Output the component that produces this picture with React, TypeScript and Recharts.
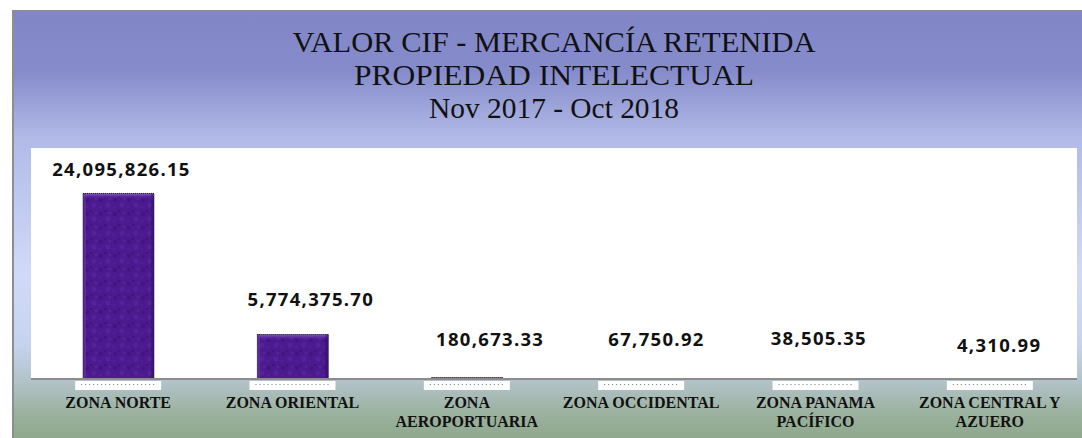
import React from "react";
import { BarChart, Bar, XAxis, YAxis, LabelList } from "recharts";

const categories = [
  "ZONA NORTE",
  "ZONA ORIENTAL",
  "ZONA AEROPORTUARIA",
  "ZONA OCCIDENTAL",
  "ZONA PANAMA PACÍFICO",
  "ZONA CENTRAL Y AZUERO",
];
const tickLines = [
  ["ZONA NORTE"],
  ["ZONA ORIENTAL"],
  ["ZONA", "AEROPORTUARIA"],
  ["ZONA OCCIDENTAL"],
  ["ZONA PANAMA", "PACÍFICO"],
  ["ZONA CENTRAL Y", "AZUERO"],
];
const values = [24095826.15, 5774375.7, 180673.33, 67750.92, 38505.35, 4310.99];
const titleLines = ["VALOR CIF - MERCANCÍA RETENIDA", "PROPIEDAD  INTELECTUAL", "Nov 2017 - Oct 2018"];

const data = categories.map((c, i) => ({ name: c, value: values[i] }));

// label placement tweaks (style only)
const labelDx = [3, 18, 23, 15, 3, 9];
const labelDy = [17.5, 28.5, 31.6, 32.5, 33.7, 27];

const fmt = (v: number) =>
  v.toLocaleString("en-US", { minimumFractionDigits: 2, maximumFractionDigits: 2 });

const BarShape = (props: any) => {
  const { x, y, width, height } = props;
  if (!height || height <= 0) return null;
  const bev = Math.min(6, height / 3);
  return (
    <g>
      <rect x={x} y={y} width={width} height={height} fill="url(#purpleTex)" />
      <rect x={x} y={y} width={width} height={bev} fill="url(#bevelTop)" />
      <rect x={x} y={y} width={3} height={height} fill="#6a3aae" opacity={0.5} />
      <rect x={x + width - 3} y={y} width={3} height={height} fill="#2a0a5a" opacity={0.4} />
      <rect
        x={x}
        y={y}
        width={width}
        height={height}
        fill="none"
        stroke="#1a1a1a"
        strokeWidth={1}
        strokeDasharray="1 1"
      />
    </g>
  );
};

const Tick = (props: any) => {
  const { x, y, index } = props;
  const lines = tickLines[index] || [];
  return (
    <g>
      <rect x={x - 43} y={y + 2} width={86} height={9} fill="#ffffff" />
      <line
        x1={x - 37}
        x2={x + 37}
        y1={y + 5.5}
        y2={y + 5.5}
        stroke="#777"
        strokeWidth={1}
        strokeDasharray="1 3"
      />
      {lines.map((t: string, k: number) => (
        <text
          key={k}
          x={x}
          y={y + 29 + k * 19}
          textAnchor="middle"
          fontFamily="'Liberation Serif', 'Times New Roman', serif"
          fontWeight={700}
          fontSize={16}
          fill="#111"
        >
          {t}
        </text>
      ))}
    </g>
  );
};

const ValueLabel = (props: any) => {
  const { x, y, width, value, index } = props;
  return (
    <text
      x={x + width / 2 + labelDx[index]}
      y={y - labelDy[index]}
      textAnchor="middle"
      fontFamily="'Open Sans', sans-serif"
      fontWeight={700}
      fontSize={18.5}
      letterSpacing={1.3}
      fill="#111"
    >
      {fmt(value)}
    </text>
  );
};

export default function App() {
  return (
    <div
      style={{
        position: "absolute",
        left: 0,
        top: 0,
        width: 1082,
        height: 438,
        background: "#ffffff",
        overflow: "hidden",
      }}
    >
      <div
        style={{
          position: "absolute",
          left: 12,
          top: 10,
          width: 1070,
          height: 428,
          borderLeft: "2px solid #8e8e8e",
          borderTop: "2px solid #8e8e8e",
          boxSizing: "border-box",
          background:
            "linear-gradient(to bottom, #8187c6 0%, #868ccb 14%, #b2bbe8 30%, #d0daf8 62%, #c6d3ee 78%, #b1c2c8 87%, #9cb29f 94%, #8fa88c 100%)",
        }}
      />
      <div
        style={{
          position: "absolute",
          left: 31,
          top: 148,
          width: 1046,
          height: 231,
          background: "#ffffff",
        }}
      />
      <svg
        width={1082}
        height={140}
        style={{ position: "absolute", left: 0, top: 0 }}
      >
        {titleLines.map((t, i) => (
          <text
            key={i}
            x={554}
            y={52 + i * 33}
            textAnchor="middle"
            fontFamily="'Liberation Serif', 'Times New Roman', serif"
            fontSize={29}
            fill="#111"
            textLength={[523, 400, 250][i]}
            lengthAdjust="spacingAndGlyphs"
          >
            {t}
          </text>
        ))}
      </svg>
      <div style={{ position: "absolute", left: 0, top: 0 }}>
        <BarChart
          width={1082}
          height={438}
          data={data}
          margin={{ top: 148, right: 5, bottom: 0, left: 31 }}
        >
          <defs>
            <pattern id="purpleTex" width="14" height="14" patternUnits="userSpaceOnUse">
              <rect width="14" height="14" fill="#4b1a8e" />
              <circle cx="3" cy="4" r="2" fill="#3c1275" opacity="0.7" />
              <circle cx="10" cy="9" r="2.5" fill="#5c28a4" opacity="0.6" />
              <circle cx="7" cy="1" r="1.5" fill="#3a1070" opacity="0.6" />
              <circle cx="12" cy="3" r="1.2" fill="#6030ac" opacity="0.5" />
              <circle cx="2" cy="11" r="1.6" fill="#561f9a" opacity="0.6" />
            </pattern>
            <linearGradient id="bevelTop" x1="0" y1="0" x2="0" y2="1">
              <stop offset="0%" stopColor="#8a5acc" />
              <stop offset="100%" stopColor="#4a1a8c" stopOpacity={0} />
            </linearGradient>
          </defs>
          <XAxis
            dataKey="name"
            interval={0}
            height={59}
            tickLine={false}
            tickSize={0}
            tickMargin={0}
            axisLine={{ stroke: "#8c8c8c", strokeWidth: 2 }}
            tick={<Tick />}
          />
          <YAxis hide domain={[0, 30000000]} />
          <Bar
            dataKey="value"
            barSize={71}
            isAnimationActive={false}
            shape={<BarShape />}
          >
            <LabelList dataKey="value" content={<ValueLabel />} />
          </Bar>
        </BarChart>
      </div>
    </div>
  );
}
